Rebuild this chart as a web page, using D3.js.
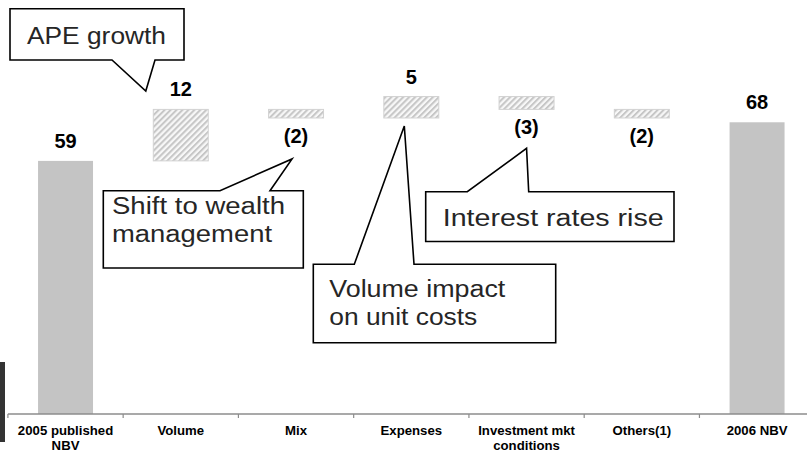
<!DOCTYPE html>
<html>
<head>
<meta charset="utf-8">
<script src="https://cdn.jsdelivr.net/npm/d3@7"></script>
<style>
  html, body { margin: 0; padding: 0; background: #fff; }
  svg { display: block; }
</style>
</head>
<body>
<svg id="chart" width="807" height="453"></svg>
<script>
// NBV walk: 2005 published NBV to 2006 NBV
const categories = ["2005 published NBV", "Volume", "Mix", "Expenses", "Investment mkt conditions", "Others(1)", "2006 NBV"];
const tickLabels = [["2005 published", "NBV"], ["Volume"], ["Mix"], ["Expenses"], ["Investment mkt", "conditions"], ["Others(1)"], ["2006 NBV"]];
const values = [59, 12, -2, 5, -3, -2, 68];
const isTotal = [true, false, false, false, false, false, true];

// Callout annotations: text lines and which bar they point at
const callouts = [
  { lines: ["APE growth"], target: "Volume" },
  { lines: ["Shift to wealth", "management"], target: "Mix" },
  { lines: ["Volume impact", "on unit costs"], target: "Expenses" },
  { lines: ["Interest rates rise"], target: "Investment mkt conditions" }
];

const svg = d3.select("#chart");
const baseY = 414;

const x = d3.scaleBand()
  .domain(categories)
  .range([7.9, 814.7])
  .paddingInner(0.523)
  .paddingOuter(0.2615);

const y = d3.scaleLinear().domain([0, 80]).range([baseY, baseY - 80 * 4.29]);

// Running totals for the floating bars
let running = 0;
const bars = categories.map((c, i) => {
  let lo, hi;
  if (isTotal[i]) { lo = 0; hi = values[i]; running = values[i]; }
  else { const start = running; running += values[i]; lo = Math.min(start, running); hi = Math.max(start, running); }
  return { cat: c, value: values[i], total: isTotal[i], lo, hi };
});

// Diagonal hatch for movement bars
const defs = svg.append("defs");
const pat = defs.append("pattern")
  .attr("id", "hatch")
  .attr("patternUnits", "userSpaceOnUse")
  .attr("width", 4.2).attr("height", 4.2)
  .attr("patternTransform", "rotate(45)");
pat.append("rect").attr("width", 4.2).attr("height", 4.2).attr("fill", "#f7f7f7");
pat.append("line").attr("x1", 1).attr("y1", 0).attr("x2", 1).attr("y2", 4.2)
  .attr("stroke", "#c6c6c6").attr("stroke-width", 2);

// Small dark edge mark at lower left
svg.append("rect").attr("x", 0).attr("y", 362).attr("width", 5).attr("height", 80).attr("fill", "#333");

// Bars
svg.append("g").selectAll("rect")
  .data(bars)
  .join("rect")
  .attr("x", d => x(d.cat))
  .attr("width", x.bandwidth())
  .attr("y", d => y(d.hi))
  .attr("height", d => y(d.lo) - y(d.hi))
  .attr("fill", d => d.total ? "#c4c4c4" : "url(#hatch)")
  .attr("stroke", d => d.total ? "none" : "#d2d2d2")
  .attr("stroke-width", 1);

// Value labels: above for increases, below for decreases
svg.append("g").selectAll("text")
  .data(bars)
  .join("text")
  .attr("x", d => x(d.cat) + x.bandwidth() / 2)
  .attr("y", d => d.value >= 0 ? y(d.hi) - 13 : y(d.lo) + 25)
  .attr("text-anchor", "middle")
  .attr("font-family", "Liberation Sans, Arial, sans-serif")
  .attr("font-weight", "bold")
  .attr("font-size", 20)
  .attr("fill", "#000")
  .text(d => d.value >= 0 ? d3.format("d")(d.value) : "(" + d3.format("d")(-d.value) + ")");

// Category axis
const axisG = svg.append("g").attr("transform", `translate(0,${baseY})`)
  .call(d3.axisBottom(x).tickSize(0).tickSizeOuter(0).tickFormat(() => ""));
axisG.select(".domain").attr("stroke", "#8c8c8c").attr("stroke-width", 1.5)
  .attr("d", `M${x.range()[0]},0H807`);

// Ticks at band boundaries
const gap = x.step() - x.bandwidth();
svg.append("g").selectAll("line")
  .data(categories)
  .join("line")
  .attr("x1", d => x(d) - gap / 2).attr("x2", d => x(d) - gap / 2)
  .attr("y1", baseY).attr("y2", baseY + 4)
  .attr("stroke", "#8c8c8c").attr("stroke-width", 1.2);

// Category labels, slightly widened
const lab = svg.append("g").selectAll("text")
  .data(categories)
  .join("text")
  .attr("transform", d => `translate(${x(d) + x.bandwidth() / 2},${baseY + 21}) scale(1.1,1)`)
  .attr("text-anchor", "middle")
  .attr("font-family", "Liberation Sans, Arial, sans-serif")
  .attr("font-weight", "bold")
  .attr("font-size", 12)
  .attr("fill", "#000");
lab.selectAll("tspan")
  .data((d, i) => tickLabels[i])
  .join("tspan")
  .attr("x", 0)
  .attr("dy", (d, i) => i === 0 ? 0 : 15.5)
  .text(d => d);

// Callout boxes with pointers; widths give each text line its set length
const bandMid = c => x(c) + x.bandwidth() / 2;
const boxes = [
  { box: [10, 8.7, 184, 60], base: [112, 155], tip: [bandMid("Volume") - 35, 91], edge: "bottom", tx: 27, ty: 44, widths: [139] },
  { box: [103.3, 190.7, 303.3, 268], base: [220, 270], tip: [bandMid("Mix") - 4, 159], edge: "top", tx: 112, ty: 214, widths: [173, 160] },
  { box: [313.3, 264.3, 555.7, 342.7], base: [354.3, 414], tip: [bandMid("Expenses") - 7, y(69) + 8], edge: "top", tx: 329.3, ty: 297, widths: [176, 148] },
  { box: [425.7, 191.7, 674, 241.5], base: [467.3, 528.7], tip: [bandMid("Investment mkt conditions"), 148.3], edge: "top", tx: 442.7, ty: 226, widths: [221] }
];

function calloutPath(b) {
  const [x0, y0, x1, y1] = b.box;
  const [b1, b2] = b.base;
  const [tx, ty] = b.tip;
  if (b.edge === "top") {
    return `M${x0},${y0}L${b1},${y0}L${tx},${ty}L${b2},${y0}L${x1},${y0}L${x1},${y1}L${x0},${y1}Z`;
  }
  return `M${x0},${y0}L${x1},${y0}L${x1},${y1}L${b2},${y1}L${tx},${ty}L${b1},${y1}L${x0},${y1}Z`;
}

const cg = svg.append("g").selectAll("g")
  .data(callouts)
  .join("g");
cg.append("path")
  .attr("d", (d, i) => calloutPath(boxes[i]))
  .attr("fill", "#fff")
  .attr("stroke", "#000")
  .attr("stroke-width", 1.6)
  .attr("stroke-linejoin", "miter");
cg.each(function (d, i) {
  const b = boxes[i];
  d3.select(this).selectAll("text.line")
    .data(d.lines)
    .join("text")
    .attr("class", "line")
    .attr("x", b.tx)
    .attr("y", (t, j) => b.ty + j * 28)
    .attr("font-family", "Liberation Sans, Arial, sans-serif")
    .attr("font-size", 23)
    .attr("fill", "#262626")
    .attr("textLength", (t, j) => b.widths[j])
    .attr("lengthAdjust", "spacingAndGlyphs")
    .text(t => t);
});
</script>
</body>
</html>
